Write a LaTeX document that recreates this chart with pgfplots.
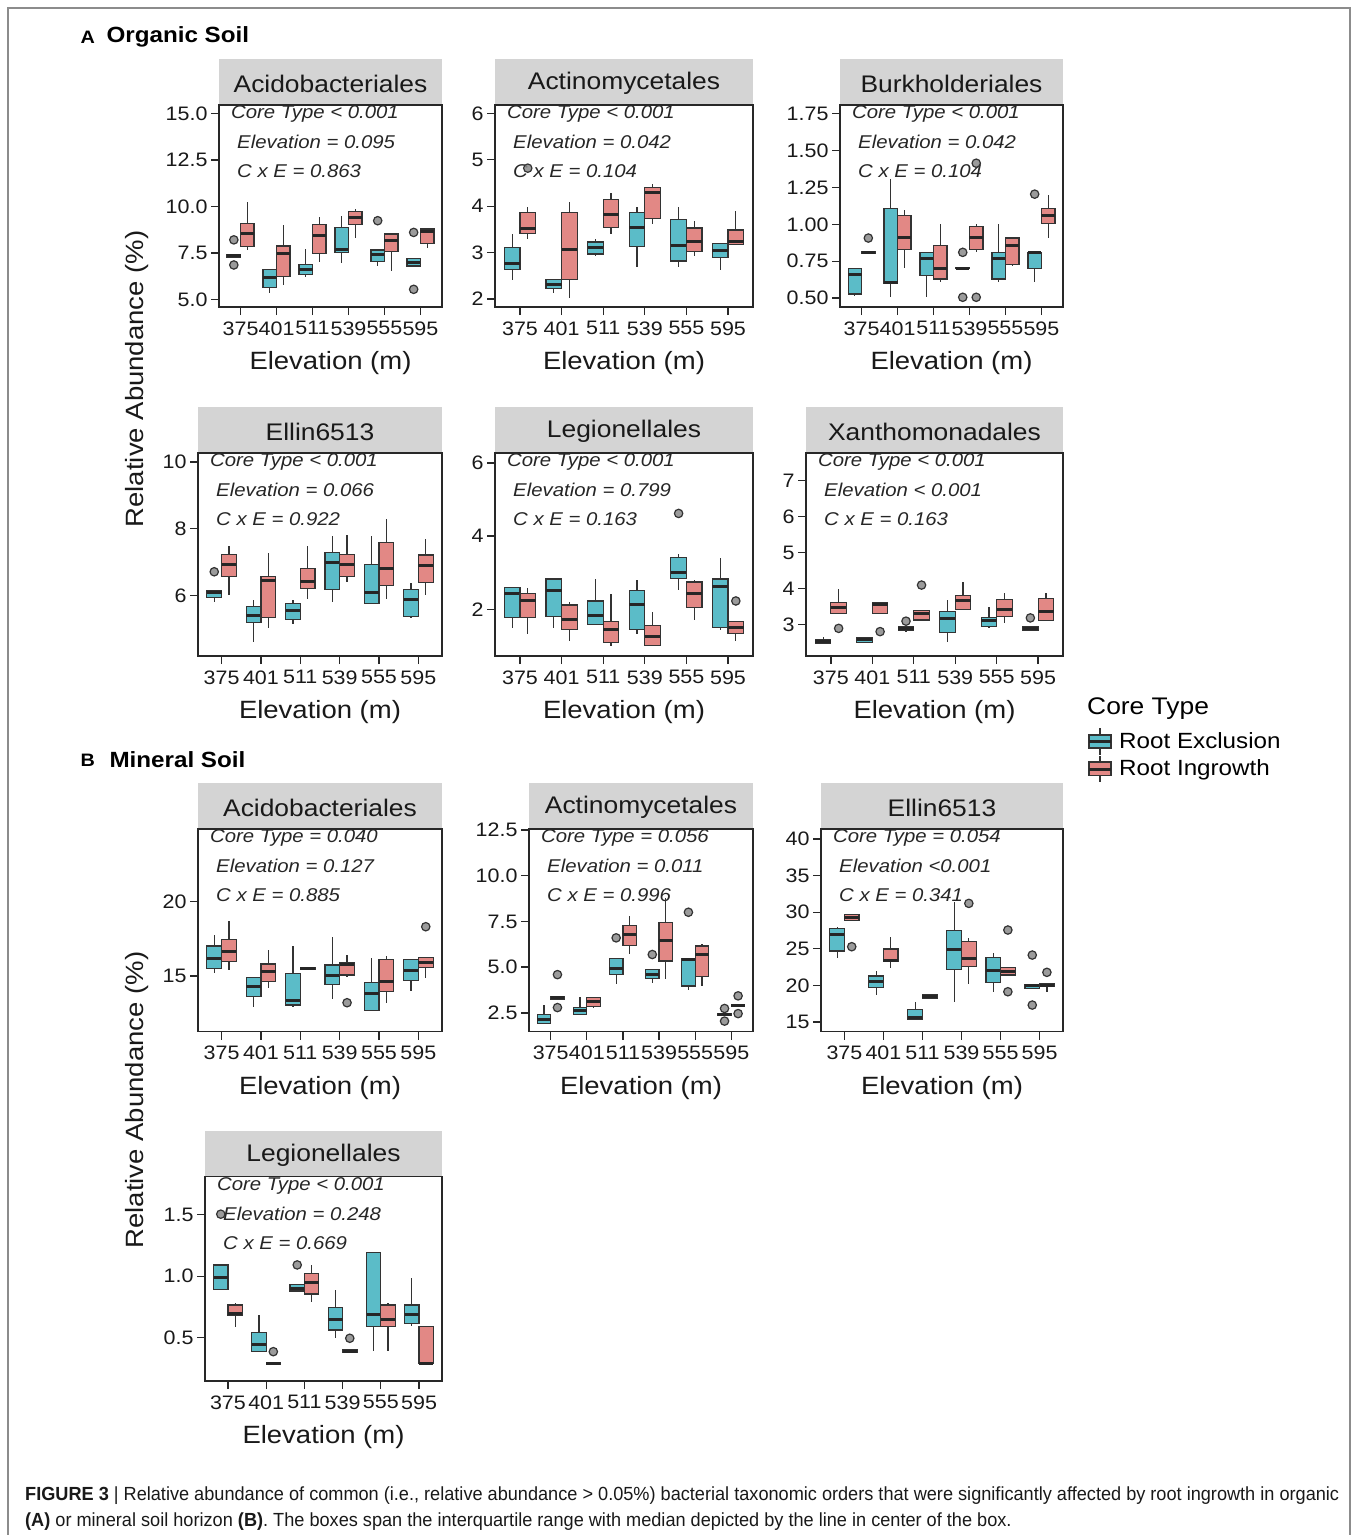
\documentclass[border=0pt]{standalone}
\usepackage{fontspec}
\setmainfont{Liberation Sans}[FakeStretch=1.1]
\newfontfamily\capfont{Liberation Sans}[FakeStretch=0.955]
\usepackage{pgfplots}
\pgfplotsset{compat=1.18}
\usepgfplotslibrary{statistics}

\definecolor{cyanF}{RGB}{91,188,200}
\definecolor{redF}{RGB}{226,136,133}
\definecolor{boxline}{RGB}{51,51,51}
\definecolor{outgray}{RGB}{138,138,138}
\definecolor{stripgray}{RGB}{212,212,212}
\definecolor{axcol}{RGB}{40,40,40}

\newcommand\ftick{\fontsize{19.5}{22}\selectfont}
\newcommand\fstrip{\fontsize{24}{28}\selectfont}
\newcommand\flab{\fontsize{25}{30}\selectfont}
\newcommand\fann{\fontsize{18.5}{22}\selectfont\itshape}

\pgfplotsset{
  panel/.style={
    scale only axis, clip=false, axis on top, anchor=south west,
    xmin=0.4, xmax=6.6, xtick={1,...,6},
    xticklabels={375,401,511,539,555,595},
    xtick pos=bottom, ytick pos=left,
    tick align=outside, major tick length=8pt,
    tick style={line width=1.3pt, draw=axcol},
    axis line style={line width=1.3pt, draw=axcol},
    tick label style={font=\ftick, text=black!90},
    xticklabel style={yshift=-3pt},
    /pgf/number format/assume math mode=true,
  },
  boxplot/draw direction=y,
  boxplot/box extend=0.375,
  boxplot/whisker extend=0,
  boxplot/every median/.style={line width=3pt, draw=black!85},
  bxbase/.style={draw=boxline, line width=1.2pt, mark=*, mark size=4.2pt,
    mark options={fill=outgray, draw=none, fill opacity=0.85}},
  bxE/.style={bxbase, boxplot/every box/.style={fill=cyanF}},
  bxR/.style={bxbase, boxplot/every box/.style={fill=redF}},
}

% cyan (Root Exclusion) and red (Root Ingrowth) boxes:
% #1 category, #2 lower whisker, #3 Q1, #4 median, #5 Q3, #6 upper whisker, #7 outliers
\newcommand\bxc[7]{\addplot[bxE, boxplot prepared={draw direction=y, draw position=#1-0.1875,
  lower whisker=#2, lower quartile=#3, median=#4, upper quartile=#5,
  upper whisker=#6}] coordinates {#7};}
\newcommand\bxr[7]{\addplot[bxR, boxplot prepared={draw direction=y, draw position=#1+0.1875,
  lower whisker=#2, lower quartile=#3, median=#4, upper quartile=#5,
  upper whisker=#6}] coordinates {#7};}

\newcommand\strip[1]{%
  \fill[stripgray] (rel axis cs:0,1) rectangle ([yshift=46pt]rel axis cs:1,1);
  \node[font=\fstrip, text=black!90] at ([yshift=21.5pt]rel axis cs:0.5,1) {#1};}
\newcommand\ann[3]{%
  \node[anchor=west, font=\fann, text=black!85, inner sep=0pt] at ([xshift=12pt,yshift=-9pt]rel axis cs:0,1) {#1};
  \node[anchor=west, font=\fann, text=black!85, inner sep=0pt] at ([xshift=18pt,yshift=-37pt]rel axis cs:0,1) {#2};
  \node[anchor=west, font=\fann, text=black!85, inner sep=0pt] at ([xshift=18pt,yshift=-66pt]rel axis cs:0,1) {#3};}
\newcommand\xl{\node[font=\flab, text=black!90] at ([yshift=-56pt]rel axis cs:0.5,0) {Elevation (m)};}

\begin{document}
\begin{tikzpicture}

% ---------------- A: organic soil ----------------
\begin{axis}[panel, at={(219pt,-307pt)}, width=223pt, height=202pt,
  ymin=4.59, ymax=15.45, ytick={5,7.5,10,12.5,15}, yticklabels={5.0,7.5,10.0,12.5,15.0}]
\strip{Acidobacteriales}
\ann{Core Type < 0.001}{Elevation = 0.095}{C x E = 0.863}
\xl
\bxc{1}{7.25}{7.28}{7.35}{7.42}{7.45}{(0,8.2) (0,6.85)}
\bxr{1}{7.65}{7.83}{8.55}{9.09}{10.25}{}
\bxc{2}{5.36}{5.63}{6.2}{6.61}{6.65}{}
\bxr{2}{5.77}{6.25}{7.45}{7.87}{9.0}{}
\bxc{3}{6.2}{6.34}{6.6}{6.88}{7.69}{}
\bxr{3}{7.03}{7.47}{8.42}{9.03}{9.44}{}
\bxc{4}{6.94}{7.53}{7.69}{8.85}{9.5}{}
\bxr{4}{8.28}{9.03}{9.39}{9.71}{9.84}{}
\bxc{5}{6.79}{7.03}{7.42}{7.65}{7.7}{(0,9.23)}
\bxr{5}{6.5}{7.56}{8.14}{8.51}{8.55}{}
\bxc{6}{6.79}{6.79}{6.99}{7.2}{7.2}{(0,8.6) (0,5.54)}
\bxr{6}{7.74}{8.01}{8.64}{8.78}{8.8}{}
\end{axis}

\begin{axis}[panel, at={(495pt,-307pt)}, width=258pt, height=202pt,
  ymin=1.83, ymax=6.18, ytick={2,3,4,5,6}, yticklabels={2,3,4,5,6}]
\strip{Actinomycetales}
\ann{Core Type < 0.001}{Elevation = 0.042}{C x E = 0.104}
\xl
\bxc{1}{2.42}{2.63}{2.77}{3.11}{3.40}{}
\bxr{1}{3.30}{3.42}{3.51}{3.87}{3.99}{(0,4.82)}
\bxc{2}{2.13}{2.22}{2.31}{2.42}{2.42}{}
\bxr{2}{2.02}{2.42}{3.06}{3.86}{4.10}{}
\bxc{3}{2.92}{2.97}{3.11}{3.23}{3.29}{}
\bxr{3}{3.40}{3.55}{3.82}{4.14}{4.28}{}
\bxc{4}{2.70}{3.13}{3.55}{3.87}{3.99}{}
\bxr{4}{3.62}{3.73}{4.30}{4.41}{4.48}{}
\bxc{5}{2.70}{2.82}{3.15}{3.71}{3.99}{}
\bxr{5}{2.92}{3.03}{3.23}{3.53}{3.69}{}
\bxc{6}{2.63}{2.90}{3.04}{3.20}{3.20}{}
\bxr{6}{3.18}{3.18}{3.23}{3.49}{3.89}{}
\end{axis}

\begin{axis}[panel, at={(840pt,-307pt)}, width=223pt, height=202pt,
  ymin=0.439, ymax=1.81, ytick={0.5,0.75,1,1.25,1.5,1.75}, yticklabels={0.50,0.75,1.00,1.25,1.50,1.75}]
\strip{Burkholderiales}
\ann{Core Type < 0.001}{Elevation = 0.042}{C x E = 0.104}
\xl
\bxc{1}{0.511}{0.527}{0.663}{0.703}{0.703}{}
\bxr{1}{0.805}{0.805}{0.81}{0.815}{0.815}{(0,0.907)}
\bxc{2}{0.507}{0.597}{0.608}{1.106}{1.307}{}
\bxr{2}{0.703}{0.828}{0.911}{1.058}{1.099}{}
\bxc{3}{0.507}{0.654}{0.767}{0.81}{0.81}{}
\bxr{3}{0.608}{0.629}{0.703}{0.855}{1.004}{}
\bxc{4}{0.698}{0.698}{0.703}{0.708}{0.708}{(0,0.81) (0,0.505)}
\bxr{4}{0.81}{0.828}{0.911}{0.986}{1.004}{(0,0.505) (0,1.415)}
\bxc{5}{0.608}{0.629}{0.767}{0.81}{1.004}{}
\bxr{5}{0.715}{0.73}{0.857}{0.907}{0.907}{}
\bxc{6}{0.608}{0.703}{0.81}{0.81}{0.81}{(0,1.205)}
\bxr{6}{0.907}{1.004}{1.06}{1.106}{1.20}{}
\end{axis}

\begin{axis}[panel, at={(198pt,-656pt)}, width=244pt, height=203pt,
  ymin=4.185, ymax=10.27, ytick={6,8,10}, yticklabels={6,8,10}]
\strip{Ellin6513}
\ann{Core Type < 0.001}{Elevation = 0.066}{C x E = 0.922}
\xl
\bxc{1}{5.81}{5.94}{6.08}{6.16}{6.16}{(0,6.71)}
\bxr{1}{6.01}{6.56}{6.93}{7.23}{7.49}{}
\bxc{2}{4.61}{5.18}{5.41}{5.66}{5.86}{}
\bxr{2}{5.01}{5.33}{6.46}{6.58}{7.28}{}
\bxc{3}{5.13}{5.29}{5.56}{5.76}{5.86}{}
\bxr{3}{5.89}{6.21}{6.43}{6.81}{7.49}{}
\bxc{4}{5.81}{6.18}{6.99}{7.28}{7.79}{}
\bxr{4}{6.41}{6.56}{6.93}{7.23}{7.81}{}
\bxc{5}{5.73}{5.76}{6.09}{6.94}{7.79}{}
\bxr{5}{5.89}{6.29}{6.81}{7.59}{8.30}{}
\bxc{6}{5.31}{5.38}{5.89}{6.19}{6.38}{}
\bxr{6}{6.01}{6.38}{6.91}{7.21}{7.68}{}
\end{axis}

\begin{axis}[panel, at={(495pt,-656pt)}, width=258pt, height=203pt,
  ymin=0.727, ymax=6.27, ytick={2,4,6}, yticklabels={2,4,6}]
\strip{Legionellales}
\ann{Core Type < 0.001}{Elevation = 0.799}{C x E = 0.163}
\xl
\bxc{1}{1.50}{1.77}{2.44}{2.59}{2.59}{}
\bxr{1}{1.32}{1.77}{2.23}{2.44}{2.59}{}
\bxc{2}{1.50}{1.80}{2.51}{2.83}{2.83}{}
\bxr{2}{1.14}{1.45}{1.73}{2.12}{2.21}{}
\bxc{3}{1.59}{1.59}{1.82}{2.23}{2.83}{}
\bxr{3}{1.01}{1.10}{1.44}{1.66}{2.41}{}
\bxc{4}{1.32}{1.46}{2.12}{2.51}{2.80}{}
\bxr{4}{1.01}{1.01}{1.27}{1.55}{1.92}{}
\bxc{5}{2.53}{2.85}{3.01}{3.41}{3.50}{(0,4.62)}
\bxr{5}{1.71}{2.05}{2.44}{2.75}{2.80}{}
\bxc{6}{1.44}{1.50}{2.62}{2.83}{3.41}{}
\bxr{6}{1.14}{1.35}{1.50}{1.68}{1.68}{(0,2.23)}
\end{axis}

\begin{axis}[panel, at={(806pt,-656pt)}, width=257pt, height=203pt,
  ymin=2.134, ymax=7.76, ytick={3,4,5,6,7}, yticklabels={3,4,5,6,7}]
\strip{Xanthomonadales}
\ann{Core Type < 0.001}{Elevation < 0.001}{C x E = 0.163}
\xl
\bxc{1}{2.47}{2.47}{2.53}{2.59}{2.67}{}
\bxr{1}{3.31}{3.31}{3.48}{3.62}{3.99}{(0,2.90)}
\bxc{2}{2.51}{2.51}{2.59}{2.65}{2.65}{}
\bxr{2}{3.31}{3.31}{3.56}{3.62}{3.62}{(0,2.81)}
\bxc{3}{2.81}{2.85}{2.90}{2.94}{2.94}{(0,3.10)}
\bxr{3}{3.13}{3.13}{3.31}{3.39}{3.39}{(0,4.10)}
\bxc{4}{2.51}{2.79}{3.16}{3.36}{3.68}{}
\bxr{4}{3.43}{3.43}{3.68}{3.82}{4.19}{}
\bxc{5}{2.92}{2.96}{3.13}{3.20}{3.48}{}
\bxr{5}{3.04}{3.22}{3.41}{3.70}{3.89}{}
\bxc{6}{2.85}{2.85}{2.90}{2.96}{2.96}{(0,3.19)}
\bxr{6}{3.11}{3.11}{3.36}{3.73}{3.89}{}
\end{axis}

% ---------------- B: mineral soil ----------------
\begin{axis}[panel, at={(198pt,-1031.7pt)}, width=244pt, height=202.7pt,
  ymin=11.26, ymax=24.89, ytick={15,20}, yticklabels={15,20}]
\strip{Acidobacteriales}
\ann{Core Type = 0.040}{Elevation = 0.127}{C x E = 0.885}
\xl
\bxc{1}{15.18}{15.52}{16.19}{17.02}{17.76}{}
\bxr{1}{15.40}{15.96}{16.64}{17.47}{18.72}{}
\bxc{2}{12.94}{13.61}{14.33}{14.91}{14.91}{}
\bxr{2}{14.17}{14.62}{15.29}{15.81}{16.75}{}
\bxc{3}{12.89}{13.05}{13.39}{15.18}{17.04}{}
\bxr{3}{15.45}{15.45}{15.52}{15.58}{15.58}{}
\bxc{4}{13.45}{14.46}{15.07}{15.74}{17.6}{}
\bxr{4}{14.91}{15.07}{15.81}{15.92}{16.41}{(0,13.21)}
\bxc{5}{12.71}{12.71}{13.83}{14.55}{16.23}{}
\bxr{5}{13.16}{13.95}{14.62}{16.12}{16.35}{}
\bxc{6}{13.99}{14.73}{15.40}{16.12}{16.12}{}
\bxr{6}{14.84}{15.58}{15.92}{16.23}{16.23}{(0,18.32)}
\end{axis}

\begin{axis}[panel, at={(529pt,-1031.7pt)}, width=224pt, height=202.7pt,
  ymin=1.47, ymax=12.55, ytick={2.5,5,7.5,10,12.5}, yticklabels={2.5,5.0,7.5,10.0,12.5}]
\strip{Actinomycetales}
\ann{Core Type = 0.056}{Elevation = 0.011}{C x E = 0.996}
\xl
\bxc{1}{1.92}{1.92}{2.14}{2.43}{2.92}{}
\bxr{1}{3.24}{3.24}{3.33}{3.41}{3.41}{(0,4.59) (0,2.79)}
\bxc{2}{2.43}{2.43}{2.65}{2.79}{3.37}{}
\bxr{2}{2.74}{2.83}{3.10}{3.32}{3.32}{}
\bxc{3}{4.10}{4.61}{4.95}{5.46}{5.46}{(0,6.6)}
\bxr{3}{5.73}{6.18}{6.77}{7.27}{7.78}{}
\bxc{4}{4.15}{4.37}{4.61}{4.88}{4.88}{(0,5.69)}
\bxr{4}{4.33}{5.33}{6.46}{7.45}{8.78}{}
\bxc{5}{3.73}{3.97}{5.40}{5.46}{5.46}{(0,8.0)}
\bxr{5}{3.97}{4.51}{5.68}{6.15}{6.28}{}
\bxc{6}{2.38}{2.38}{2.41}{2.44}{2.44}{(0,2.74) (0,2.05)}
\bxr{6}{2.85}{2.85}{2.88}{2.91}{2.91}{(0,3.43) (0,2.46)}
\end{axis}

\begin{axis}[panel, at={(821pt,-1031.7pt)}, width=242pt, height=202.7pt,
  ymin=13.68, ymax=41.37, ytick={15,20,25,30,35,40}, yticklabels={15,20,25,30,35,40}]
\strip{Ellin6513}
\ann{Core Type = 0.054}{Elevation <0.001}{C x E = 0.341}
\xl
\bxc{1}{23.70}{24.7}{27.02}{27.8}{28.02}{}
\bxr{1}{28.84}{28.84}{29.30}{29.71}{29.71}{(0,25.29)}
\bxc{2}{18.69}{19.69}{20.51}{21.28}{21.97}{}
\bxr{2}{22.42}{23.24}{23.47}{24.97}{26.66}{}
\bxc{3}{15.36}{15.36}{15.64}{16.73}{17.78}{}
\bxr{3}{18.23}{18.23}{18.46}{18.69}{18.69}{}
\bxc{4}{17.78}{22.19}{24.97}{27.48}{31.44}{}
\bxr{4}{20.19}{22.56}{23.70}{25.97}{26.43}{(0,31.21)}
\bxc{5}{19.14}{20.42}{22.01}{23.83}{24.38}{}
\bxr{5}{21.42}{21.42}{21.88}{22.42}{22.42}{(0,27.57) (0,19.14)}
\bxc{6}{19.60}{19.60}{19.96}{20.15}{20.15}{(0,24.15) (0,17.32)}
\bxr{6}{19.14}{19.83}{20.05}{20.28}{20.28}{(0,21.79)}
\end{axis}

\begin{axis}[panel, at={(205pt,-1381pt)}, width=237pt, height=204.3pt,
  ymin=0.147, ymax=1.81, ytick={0.5,1,1.5}, yticklabels={0.5,1.0,1.5}]
\strip{Legionellales}
\ann{Core Type < 0.001}{Elevation = 0.248}{C x E = 0.669}
\xl
\bxc{1}{0.889}{0.889}{0.989}{1.092}{1.092}{(0,1.505)}
\bxr{1}{0.59}{0.679}{0.70}{0.766}{0.78}{}
\bxc{2}{0.386}{0.386}{0.446}{0.543}{0.685}{}
\bxr{2}{0.283}{0.283}{0.291}{0.299}{0.299}{(0,0.386)}
\bxc{3}{0.88}{0.88}{0.902}{0.935}{0.935}{(0,1.092)}
\bxr{3}{0.793}{0.856}{0.948}{1.019}{1.092}{}
\bxc{4}{0.495}{0.563}{0.644}{0.745}{0.889}{}
\bxr{4}{0.383}{0.383}{0.391}{0.399}{0.399}{(0,0.495)}
\bxc{5}{0.391}{0.590}{0.690}{1.193}{1.193}{}
\bxr{5}{0.391}{0.590}{0.644}{0.766}{0.785}{}
\bxc{6}{0.595}{0.617}{0.690}{0.766}{0.989}{}
\bxr{6}{0.291}{0.291}{0.291}{0.59}{0.59}{}
\end{axis}

% ---------------- labels ----------------
\node[rotate=90, font=\flab, text=black!90] at (137pt,-379pt) {Relative Abundance (\%)};
\node[rotate=90, font=\flab, text=black!90] at (137pt,-1100pt) {Relative Abundance (\%)};
\node[anchor=west, font=\bfseries\fontsize{18}{20}\selectfont] at (77pt,-37pt) {A};
\node[anchor=west, font=\bfseries\fontsize{22}{26}\selectfont] at (103pt,-37pt) {Organic Soil};
\node[anchor=west, font=\bfseries\fontsize{18}{20}\selectfont] at (77pt,-760pt) {B};
\node[anchor=west, font=\bfseries\fontsize{22}{26}\selectfont] at (106pt,-760pt) {Mineral Soil};

% legend
\node[anchor=west, font=\fontsize{24}{28}\selectfont, inner sep=0pt] at (1087pt,-709pt) {Core Type};
\draw[boxline, line width=1.2pt] (1100pt,-728pt) -- (1100pt,-755pt);
\draw[boxline, line width=1.2pt, fill=cyanF] (1089pt,-735pt) rectangle (1111pt,-748pt);
\draw[black!85, line width=3pt] (1089pt,-741.5pt) -- (1111pt,-741.5pt);
\draw[boxline, line width=1.2pt] (1100pt,-756pt) -- (1100pt,-782pt);
\draw[boxline, line width=1.2pt, fill=redF] (1089pt,-762pt) rectangle (1111pt,-775.5pt);
\draw[black!85, line width=3pt] (1089pt,-769pt) -- (1111pt,-769pt);
\node[anchor=west, font=\fontsize{22}{26}\selectfont, inner sep=0pt] at (1119pt,-741pt) {Root Exclusion};
\node[anchor=west, font=\fontsize{22}{26}\selectfont, inner sep=0pt] at (1119pt,-770pt) {Root Ingrowth};

% caption
\node[anchor=west, font=\capfont\fontsize{19}{22}\selectfont, inner sep=0pt, text=black!90] at (25pt,-1496pt)
  {\textbf{FIGURE 3} | Relative abundance of common (i.e., relative abundance > 0.05\%) bacterial taxonomic orders that were significantly affected by root ingrowth in organic};
\node[anchor=west, font=\capfont\fontsize{19}{22}\selectfont, inner sep=0pt, text=black!90] at (25pt,-1522pt)
  {\textbf{(A)} or mineral soil horizon \textbf{(B)}. The boxes span the interquartile range with median depicted by the line in center of the box.};

% frame
\draw[black!45, line width=1.2pt] (8pt,-1540pt) -- (8pt,-8pt) -- (1350pt,-8pt) -- (1350pt,-1540pt);

\pgfresetboundingbox
\useasboundingbox (0pt,0pt) rectangle (1358pt,-1535pt);
\end{tikzpicture}
\end{document}
